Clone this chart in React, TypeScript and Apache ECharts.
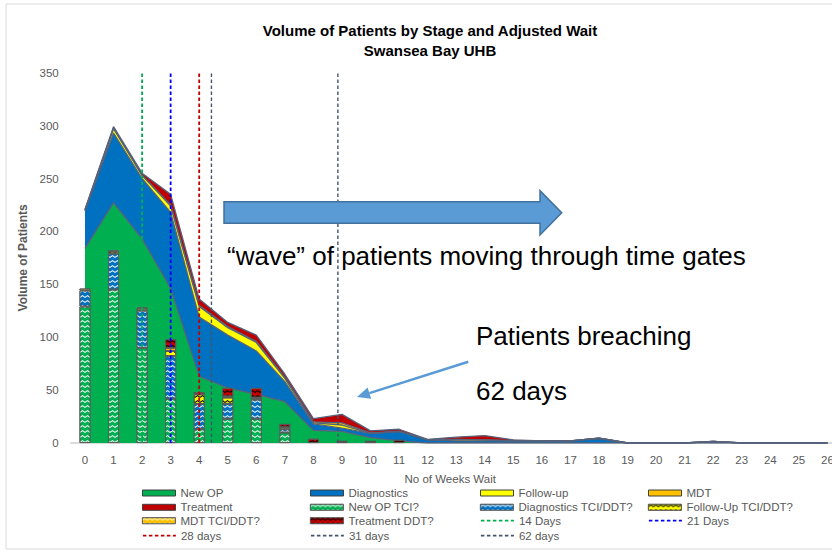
import React, { useEffect, useRef } from 'react';
import * as echarts from 'echarts';

// ---------- data ----------
const weeks = ['0','1','2','3','4','5','6','7','8','9','10','11','12','13','14','15','16','17','18','19','20','21','22','23','24','25','26'];

// stacked areas
const newOP =       [184, 227, 193, 146, 63, 52, 46, 39, 12, 11, 5, 2, 0, 0, 0, 0, 0, 0, 0, 0, 0, 0, 0, 0, 0, 0, 0];
const diagnostics = [35, 66, 57, 72, 56, 50, 41, 19, 6, 3, 4, 9, 3, 2, 2, 2, 2, 2, 4.5, 0, 0, 0, 1.5, 0, 0, 0, 0];
const followUp =    [1, 4, 3, 6, 10, 7, 8, 3, 1, 3, 0, 0, 0, 1.5, 1, 0, 0, 0, 0, 0, 0, 0, 0, 0, 0, 0, 0];
const mdt =         [0, 1, 0, 1, 1, 1, 1, 1, 1, 2, 0.5, 0, 0, 0, 0, 0, 0, 0, 0, 0, 0, 0, 0, 0, 0, 0, 0];
const treatment =   [1, 1, 2, 10, 6, 4, 6, 3, 3, 8, 2, 2, 0.5, 2, 4, 1, 0, 0, 0, 0, 0, 0, 0, 0, 0, 0, 0];

// stacked patterned bars
const newOpTci =    [129, 145, 90, 42, 13, 23, 23, 10, 0, 0, 0, 0, 0, 0, 0, 0, 0, 0, 0, 0, 0, 0, 0, 0, 0, 0, 0];
const diagTci =     [15, 34, 35, 40, 24, 14, 18, 3, 0, 0, 0, 0, 0, 0, 0, 0, 0, 0, 0, 0, 0, 0, 0, 0, 0, 0, 0];
const followUpTci = [2, 2, 2, 5, 9, 6, 1, 2, 0, 0, 0, 0, 0, 0, 0, 0, 0, 0, 0, 0, 0, 0, 0, 0, 0, 0, 0];
const mdtTci =      [0, 1, 1, 3, 0, 1, 1, 0, 0, 0, 0, 0, 0, 0, 0, 0, 0, 0, 0, 0, 0, 0, 0, 0, 0, 0, 0];
const treatDdt =    [0, 0, 0, 8, 2, 8, 9, 3, 4, 2, 2, 3, 0, 0, 0, 0, 0, 0, 0, 0, 0, 0, 0, 0, 0, 0, 0];

// time gates (days)
const gateNames = ['14 Days', '21 Days', '28 days', '31 days', '62 days'];
const gateDays = [14, 21, 28, 31, 62];
const DAYS_PER_WEEK = 7;

const yTicks = { min: 0, max: 350, interval: 50 };

// ---------- styles ----------
const FONT = "'Liberation Sans', Arial, sans-serif";
const GREY = '#595959';
const areaColors = ['#00B050', '#0070C0', '#FFFF00', '#FFC000', '#C00000'];
const barColors = ['#00B050', '#0070C0', '#FFFF00', '#FFC000', '#C00000'];
const barDecalColors = ['rgba(255,255,255,0.92)', 'rgba(255,255,255,0.92)', '#000000', 'rgba(255,255,220,0.95)', '#000000'];
const gateColors = ['#00B050', '#0000FF', '#C00000', '#44546A', '#44546A'];
const gateWidths = [1.8, 1.8, 1.8, 1.4, 1.4];
const ZIG = 'path://M0,5.5 L5,0 L10,5.5 L10,10 L5,4.5 L0,10 Z';

export default function App() {
  const ref = useRef<HTMLDivElement>(null);

  useEffect(() => {
    const chart = echarts.init(ref.current as HTMLDivElement, null, { renderer: 'svg' });
    const nz = (arr: number[]) => arr.map((v) => (v === 0 ? null : v));

    const areaNames = ['New OP', 'Diagnostics', 'Follow-up', 'MDT', 'Treatment'];
    const areaData = [newOP, diagnostics, followUp, mdt, treatment];
    const barNames = ['New OP TCI?', 'Diagnostics TCI/DDT?', 'Follow-Up TCI/DDT?', 'MDT TCI/DDT?', 'Treatment DDT?'];
    const barData = [newOpTci, diagTci, followUpTci, mdtTci, treatDdt];

    const decalFor = (i: number) => ({
      symbol: ZIG,
      symbolSize: 1,
      symbolKeepAspect: false,
      color: barDecalColors[i],
      dashArrayX: [5, 0],
      dashArrayY: [2.6, 1.9],
      rotation: 0,
    });

    const series: any[] = [];
    areaNames.forEach((n, i) => {
      series.push({
        name: n,
        type: 'line',
        stack: 'areas',
        data: areaData[i],
        symbol: 'none',
        z: 2,
        lineStyle: { color: '#56627a', width: 1.3 },
        itemStyle: { color: areaColors[i] },
        areaStyle: { color: areaColors[i], opacity: 1 },
        silent: true,
      });
    });
    barNames.forEach((n, i) => {
      series.push({
        name: n,
        type: 'bar',
        stack: 'bars',
        data: nz(barData[i]),
        barWidth: 11,
        z: 3,
        itemStyle: { color: barColors[i], borderColor: '#5a5a5a', borderWidth: 0.9, decal: decalFor(i) },
        silent: true,
      });
    });
    gateNames.forEach((n, i) => {
      const wk = gateDays[i] / DAYS_PER_WEEK;
      series.push({
        name: n,
        type: 'line',
        xAxisIndex: 1,
        data: [[wk, yTicks.min], [wk, yTicks.max]],
        symbol: 'none',
        z: 4,
        lineStyle: { color: gateColors[i], width: gateWidths[i], type: [3.5, 2.5] },
        itemStyle: { color: gateColors[i] },
        silent: true,
      });
    });

    const legendOrder = [...areaNames, ...barNames, ...gateNames];
    const legendCols = [142, 310, 480, 648];
    const legendRows = [494, 508.3, 521.7, 536.7];
    const legends = legendOrder.map((name, idx) => {
      const col = idx % 4;
      const row = Math.floor(idx / 4);
      const base: any = {
        data: [name],
        left: legendCols[col],
        top: legendRows[row] - 7,
        padding: 0,
        itemWidth: 33,
        itemHeight: 6,
        itemGap: 0,
        selectedMode: false,
        textStyle: { color: GREY, fontSize: 11.5, fontFamily: FONT },
      };
      if (idx < 5) {
        base.icon = 'rect';
        base.itemStyle = { color: areaColors[idx], borderColor: '#404040', borderWidth: 1 };
      } else if (idx < 10) {
        const b = idx - 5;
        base.icon = 'rect';
        base.itemStyle = { color: barColors[b], borderColor: '#5a5a5a', borderWidth: 0.8 };
      } else {
        const g = idx - 10;
        base.itemStyle = { opacity: 0, color: 'transparent', borderWidth: 0 };
        base.lineStyle = { color: gateColors[g], width: 1.8, type: [3.5, 2.5] };
      }
      return base;
    });

    const arrowTip = [357, 397];
    const option: any = {
      animation: false,
      backgroundColor: '#ffffff',
      textStyle: { fontFamily: FONT },
      grid: { left: 70.7, top: 72.7, width: 771, height: 370.3, containLabel: false },
      xAxis: [
        {
          type: 'category',
          data: weeks,
          boundaryGap: true,
          axisLine: { lineStyle: { color: '#d0d0d0', width: 1.5 } },
          axisTick: { show: false },
          axisLabel: { color: GREY, fontSize: 11.5, margin: 11, interval: 0, fontFamily: FONT },
          name: 'No of Weeks Wait',
          nameLocation: 'middle',
          nameGap: 30,
          nameTextStyle: { color: GREY, fontSize: 11.5, fontFamily: FONT, padding: [0, 12, 0, 0] },
          splitLine: { show: false },
        },
        { type: 'value', min: -0.5, max: 26.5, show: false },
      ],
      yAxis: {
        type: 'value',
        min: yTicks.min,
        max: yTicks.max,
        interval: yTicks.interval,
        splitLine: { show: false },
        axisLine: { show: false },
        axisTick: { show: false },
        axisLabel: { color: GREY, fontSize: 11.5, margin: 12, fontFamily: FONT },
        name: 'Volume of Patients',
        nameLocation: 'middle',
        nameRotate: 90,
        nameGap: 30,
        nameTextStyle: { color: GREY, fontSize: 12, fontWeight: 'bold', fontFamily: FONT },
      },
      legend: legends,
      series,
      graphic: [
        {
          type: 'rect', silent: true, z: -10,
          shape: { x: 6, y: 4, width: 900, height: 545 },
          style: { fill: 'none', stroke: '#d9d9d9', lineWidth: 1 },
        },
        {
          type: 'text', x: 430, y: 30.5, silent: true,
          style: { text: 'Volume of Patients by Stage and Adjusted Wait', fill: '#000', fontSize: 15, fontWeight: 'bold', fontFamily: FONT, align: 'center', verticalAlign: 'middle', textAlign: 'center', textVerticalAlign: 'middle' },
        },
        {
          type: 'text', x: 430, y: 50.5, silent: true,
          style: { text: 'Swansea Bay UHB', fill: '#000', fontSize: 15, fontWeight: 'bold', fontFamily: FONT, align: 'center', verticalAlign: 'middle', textAlign: 'center', textVerticalAlign: 'middle' },
        },
        {
          type: 'polygon', silent: true, z: 20,
          shape: { points: [[224, 201.7], [540, 201.7], [540, 190.7], [561.7, 212.7], [540, 235], [540, 223.3], [224, 223.3]] },
          style: { fill: '#5B9BD5', stroke: '#41719C', lineWidth: 1.5 },
        },
        {
          type: 'text', x: 227, y: 256, silent: true, z: 20,
          style: { text: '\u201cwave\u201d of patients moving through time gates', fill: '#000', fontSize: 26, fontFamily: FONT, align: 'left', verticalAlign: 'middle', textAlign: 'left', textVerticalAlign: 'middle' },
        },
        {
          type: 'text', x: 476, y: 336, silent: true, z: 20,
          style: { text: 'Patients breaching', fill: '#000', fontSize: 26, fontFamily: FONT, align: 'left', verticalAlign: 'middle', textAlign: 'left', textVerticalAlign: 'middle' },
        },
        {
          type: 'text', x: 476, y: 391, silent: true, z: 20,
          style: { text: '62 days', fill: '#000', fontSize: 26, fontFamily: FONT, align: 'left', verticalAlign: 'middle', textAlign: 'left', textVerticalAlign: 'middle' },
        },
        {
          type: 'line', silent: true, z: 20,
          shape: { x1: 468.3, y1: 361.7, x2: 369.4, y2: 393.1 },
          style: { stroke: '#5B9BD5', lineWidth: 2.5 },
        },
        {
          type: 'polygon', silent: true, z: 20,
          shape: { points: [arrowTip, [371.2, 398.8], [367.6, 387.4]] },
          style: { fill: '#5B9BD5' },
        },
      ],
    };

    chart.setOption(option);
    return () => chart.dispose();
  }, []);

  return (
    <div
      ref={ref}
      style={{ position: 'fixed', left: 0, top: 0, width: 860, height: 556, background: '#fff' }}
    />
  );
}
